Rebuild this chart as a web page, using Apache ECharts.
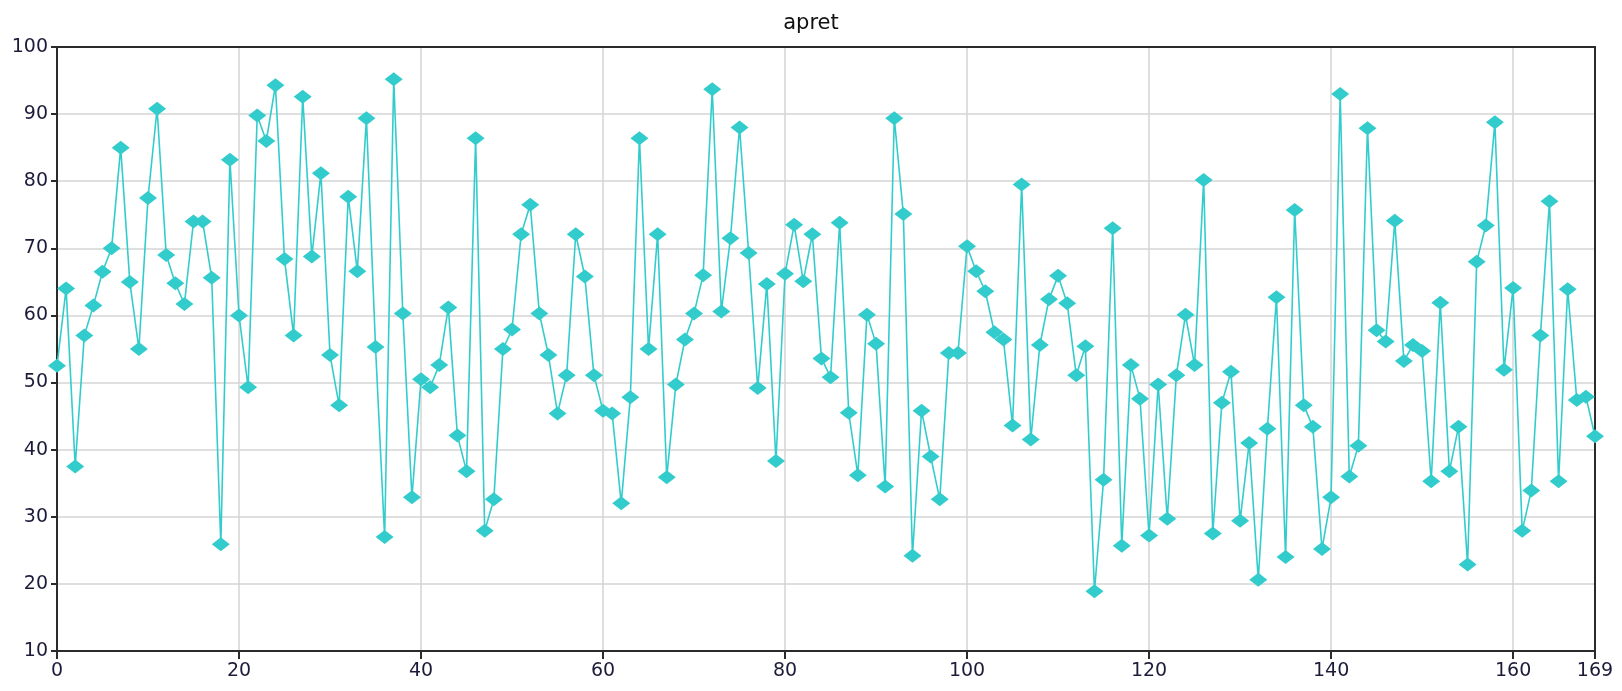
<!DOCTYPE html>
<html>
<head>
<meta charset="utf-8">
<title>apret</title>
<script src="https://cdn.jsdelivr.net/npm/echarts@6/dist/echarts.min.js"></script>
<style>
  html, body { margin: 0; padding: 0; background: #fff; }
  #chart { width: 1622px; height: 691px; }
</style>
</head>
<body>
<div id="chart"></div>
<script>
const chartTitle = 'apret'

// values, one per sample (0..169)
const apret = [
  52.5, 64, 37.5, 57, 61.5, 66.5, 70, 85, 65, 55,
  77.5, 90.8, 69, 64.8, 61.7, 74, 74, 65.6, 25.9, 83.2,
  60, 49.3, 89.8, 86, 94.3, 68.4, 57, 92.6, 68.8, 81.2,
  54.1, 46.6, 77.7, 66.6, 89.4, 55.3, 27, 95.2, 60.3, 32.9,
  50.5, 49.3, 52.6, 61.2, 42.1, 36.8, 86.4, 27.9, 32.6, 55,
  57.9, 72.1, 76.5, 60.3, 54.1, 45.4, 51.1, 72.1, 65.8, 51.1,
  45.8, 45.4, 32, 47.8, 86.4, 55, 72.1, 35.9, 49.7, 56.4,
  60.3, 66, 93.7, 60.6, 71.5, 88, 69.3, 49.2, 64.7, 38.3,
  66.2, 73.5, 65.1, 72.1, 53.6, 50.8, 73.8, 45.5, 36.2, 60.1,
  55.8, 34.5, 89.4, 75.1, 24.2, 45.8, 39, 32.6, 54.4, 54.4,
  70.3, 66.6, 63.6, 57.5, 56.4, 43.6, 79.5, 41.5, 55.6, 62.4,
  65.9, 61.8, 51.1, 55.4, 18.9, 35.5, 73, 25.7, 52.6, 47.6,
  27.2, 49.7, 29.7, 51.1, 60.1, 52.6, 80.2, 27.5, 47, 51.6,
  29.4, 41, 20.6, 43.1, 62.7, 24, 75.7, 46.6, 43.4, 25.2,
  32.9, 93, 36, 40.6, 87.9, 57.8, 56.1, 74.1, 53.2, 55.6,
  54.7, 35.3, 61.9, 36.8, 43.4, 22.9, 68, 73.4, 88.8, 51.9,
  64.1, 27.9, 33.9, 57, 77, 35.3, 63.9, 47.4, 47.9, 42
]

const xTickStep = 20
const yTickStep = 10
const yMin = 10
const yMax = 100

const lineColor = '#33CCCC'
const axisColor = '#2b2b2b'
const labelColor = '#1c1c3a'
const gridColor = '#d4d4d4'
const font = 'DejaVu Sans'

const chart = echarts.init(document.getElementById('chart'), null, { renderer: 'canvas' })

// plain frame lines for the top and right edges, drawn over the grid lines
const frameAxis = {
  show: true,
  axisLine: { show: true, onZero: false, lineStyle: { color: axisColor, width: 2 } },
  axisTick: { show: false },
  axisLabel: { show: false },
  splitLine: { show: false }
}

const option = {
  animation: false,
  backgroundColor: '#ffffff',
  title: {
    text: chartTitle,
    left: 'center',
    top: 8,
    textStyle: {
      fontFamily: font,
      fontSize: 21,
      fontWeight: 'normal',
      color: '#111'
    }
  },
  grid: {
    left: 57,
    right: 27,
    top: 47,
    bottom: 40,
    containLabel: false
  },
  xAxis: [
    {
      type: 'value',
      min: 0,
      max: apret.length - 1,
      interval: xTickStep,
      axisLine: { onZero: false, lineStyle: { color: axisColor, width: 2 } },
      axisTick: { show: true, length: 8, lineStyle: { color: axisColor, width: 2 } },
      axisLabel: {
        fontFamily: font,
        fontSize: 19,
        color: labelColor,
        margin: 11
      },
      splitLine: { show: true, lineStyle: { color: gridColor, width: 1.5 } }
    },
    Object.assign({ type: 'value', position: 'top', min: 0, max: apret.length - 1 }, frameAxis)
  ],
  yAxis: [
    {
      type: 'value',
      min: yMin,
      max: yMax,
      interval: yTickStep,
      axisLine: { show: true, onZero: false, lineStyle: { color: axisColor, width: 2 } },
      axisTick: { show: true, length: 6, lineStyle: { color: axisColor, width: 2 } },
      axisLabel: {
        fontFamily: font,
        fontSize: 19,
        color: labelColor,
        margin: 9
      },
      splitLine: { show: true, lineStyle: { color: gridColor, width: 1.5 } }
    },
    Object.assign({ type: 'value', position: 'right', min: yMin, max: yMax }, frameAxis)
  ],
  series: [
    {
      name: chartTitle,
      type: 'line',
      data: apret.map((v, i) => [i, v]),
      symbol: 'diamond',
      symbolSize: [18, 14],
      showAllSymbol: true,
      itemStyle: { color: lineColor },
      lineStyle: { color: lineColor, width: 1.6 }
    }
  ]
}

chart.setOption(option)
</script>
</body>
</html>
